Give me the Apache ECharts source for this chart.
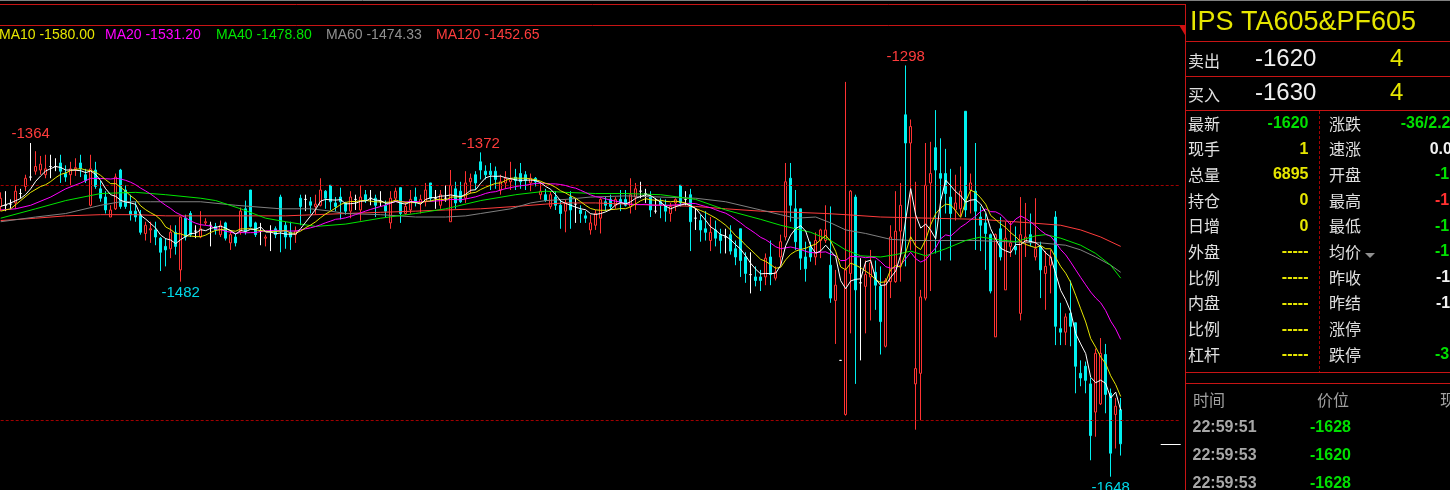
<!DOCTYPE html>
<html><head><meta charset="utf-8">
<script src="https://cdn.jsdelivr.net/npm/echarts/dist/echarts.min.js"></script>
<style>html,body{margin:0;padding:0;background:#000;}#c{width:1450px;height:490px;}</style>
</head><body><div id="c"></div>
<script>
// ---------- DATA ----------
const opens = [
-1418,-1417,-1416,-1415,-1407,-1401,-1393,-1388,-1387,-1391,
-1384,-1384,-1381,-1390,-1391,-1386,-1381,-1391,-1417,-1387,
-1403,-1410,-1427,-1420,-1387,-1404,-1422,-1422,-1425,-1441,
-1438,-1438,-1445,-1452,-1454,-1440,-1472,-1428,-1424,-1439,
-1444,-1432,-1434,-1435,-1442,-1432,-1449,-1444,-1439,-1420,
-1404,-1432,-1439,-1445,-1439,-1437,-1410,-1434,-1440,-1442,
-1411,-1412,-1414,-1418,-1417,-1405,-1400,-1415,-1410,-1415,
-1422,-1412,-1421,-1408,-1411,-1411,-1414,-1417,-1432,-1411,
-1402,-1424,-1421,-1410,-1415,-1414,-1398,-1411,-1417,-1411,
-1431,-1403,-1405,-1411,-1397,-1391,-1380,-1388,-1388,-1388,
-1404,-1398,-1397,-1393,-1390,-1391,-1398,-1394,-1408,-1408,
-1418,-1410,-1417,-1422,-1410,-1416,-1421,-1426,-1438,-1434,
-1428,-1414,-1412,-1417,-1412,-1412,-1418,-1410,-1405,-1407,
-1410,-1422,-1414,-1417,-1424,-1415,-1400,-1412,-1408,-1428,
-1430,-1437,-1447,-1438,-1442,-1444,-1442,-1454,-1437,-1461,
-1476,-1478,-1478,-1478,-1461,-1479,-1461,-1444,-1394,-1420,
-1420,-1461,-1452,-1461,-1447,-1447,-1468,-1498,-1549,-1595,
-1475,-1410,-1483,-1486,-1478,-1474,-1486,-1537,-1482,-1482,
-1439,-1340,-1364,-1569,-1560,-1496,-1398,-1368,-1390,-1390,
-1410,-1421,-1420,-1337,-1404,-1405,-1427,-1432,-1442,-1529,
-1437,-1489,-1452,-1452,-1509,-1448,-1442,-1461,-1452,-1475,
-1468,-1427,-1522,-1525,-1509,-1517,-1560,-1554,-1569,-1593,
-1586,-1544,-1577,-1595,-1591];
const closes = [
-1411,-1417,-1416,-1405,-1407,-1394,-1393,-1384,-1382,-1386,
-1384,-1384,-1388,-1393,-1386,-1385,-1386,-1396,-1386,-1401,
-1411,-1421,-1421,-1393,-1418,-1418,-1425,-1427,-1440,-1434,
-1437,-1444,-1457,-1455,-1440,-1452,-1427,-1444,-1442,-1439,
-1437,-1431,-1434,-1438,-1434,-1445,-1442,-1449,-1422,-1439,
-1435,-1442,-1439,-1444,-1439,-1442,-1439,-1444,-1444,-1439,
-1418,-1412,-1417,-1416,-1404,-1411,-1414,-1418,-1414,-1422,
-1410,-1412,-1410,-1413,-1411,-1417,-1414,-1422,-1411,-1405,
-1424,-1418,-1412,-1414,-1412,-1404,-1411,-1411,-1408,-1411,
-1400,-1415,-1414,-1398,-1394,-1398,-1387,-1391,-1391,-1395,
-1397,-1394,-1395,-1396,-1397,-1396,-1394,-1397,-1405,-1413,
-1408,-1417,-1424,-1415,-1421,-1416,-1424,-1428,-1432,-1424,
-1412,-1417,-1418,-1412,-1415,-1417,-1408,-1403,-1405,-1407,
-1421,-1422,-1417,-1422,-1418,-1412,-1415,-1412,-1431,-1428,
-1438,-1440,-1440,-1445,-1447,-1444,-1456,-1461,-1464,-1475,
-1476,-1481,-1481,-1462,-1476,-1474,-1448,-1397,-1417,-1448,
-1462,-1471,-1461,-1447,-1438,-1438,-1496,-1485,-1549,-1472,
-1405,-1489,-1483,-1476,-1466,-1485,-1516,-1481,-1444,-1439,
-1417,-1364,-1350,-1556,-1495,-1400,-1390,-1387,-1394,-1407,
-1424,-1415,-1405,-1421,-1398,-1422,-1434,-1441,-1490,-1442,
-1461,-1445,-1449,-1455,-1442,-1444,-1449,-1454,-1472,-1469,
-1461,-1520,-1525,-1512,-1520,-1554,-1564,-1566,-1613,-1543,
-1543,-1578,-1628,-1588,-1620];
const lows = [
-1422,-1422,-1420,-1420,-1411,-1405,-1396,-1391,-1391,-1394,
-1394,-1388,-1398,-1397,-1400,-1392,-1393,-1398,-1418,-1403,
-1414,-1424,-1427,-1421,-1420,-1420,-1430,-1431,-1442,-1447,
-1449,-1451,-1473,-1469,-1462,-1459,-1482,-1447,-1444,-1445,
-1445,-1434,-1452,-1442,-1444,-1447,-1455,-1452,-1442,-1442,
-1436,-1444,-1451,-1452,-1456,-1445,-1457,-1454,-1455,-1449,
-1434,-1422,-1424,-1425,-1418,-1420,-1421,-1422,-1429,-1425,
-1428,-1421,-1430,-1415,-1417,-1427,-1418,-1427,-1437,-1414,
-1432,-1425,-1424,-1418,-1424,-1418,-1414,-1420,-1420,-1414,
-1431,-1420,-1415,-1415,-1407,-1404,-1395,-1395,-1404,-1403,
-1408,-1403,-1404,-1404,-1403,-1404,-1405,-1401,-1412,-1414,
-1420,-1421,-1437,-1440,-1437,-1432,-1432,-1432,-1442,-1438,
-1441,-1422,-1421,-1420,-1422,-1418,-1424,-1421,-1411,-1415,
-1427,-1424,-1428,-1431,-1431,-1422,-1418,-1417,-1456,-1438,
-1448,-1447,-1456,-1452,-1458,-1458,-1459,-1468,-1478,-1483,
-1492,-1486,-1490,-1485,-1485,-1481,-1469,-1447,-1431,-1455,
-1472,-1482,-1465,-1468,-1462,-1449,-1500,-1535,-1549,-1596,
-1526,-1569,-1549,-1526,-1515,-1506,-1544,-1538,-1496,-1483,
-1482,-1469,-1455,-1608,-1600,-1498,-1490,-1458,-1464,-1424,
-1464,-1430,-1427,-1427,-1424,-1455,-1456,-1472,-1492,-1529,
-1464,-1489,-1461,-1459,-1515,-1461,-1452,-1464,-1496,-1506,
-1492,-1536,-1536,-1536,-1537,-1577,-1571,-1577,-1634,-1614,
-1587,-1594,-1648,-1624,-1630];
const highs = [
-1406,-1405,-1412,-1400,-1403,-1391,-1364,-1371,-1375,-1374,
-1374,-1377,-1374,-1383,-1380,-1377,-1374,-1386,-1374,-1380,
-1396,-1405,-1417,-1390,-1386,-1400,-1408,-1414,-1421,-1431,
-1431,-1431,-1444,-1445,-1434,-1434,-1427,-1425,-1422,-1434,
-1422,-1428,-1431,-1432,-1430,-1431,-1438,-1441,-1419,-1413,
-1404,-1431,-1432,-1442,-1434,-1435,-1408,-1431,-1431,-1435,
-1408,-1408,-1410,-1408,-1394,-1404,-1400,-1410,-1402,-1414,
-1405,-1408,-1400,-1404,-1404,-1408,-1405,-1413,-1405,-1402,
-1402,-1414,-1404,-1402,-1408,-1398,-1398,-1404,-1404,-1400,
-1387,-1397,-1397,-1388,-1390,-1388,-1372,-1383,-1381,-1384,
-1391,-1388,-1380,-1386,-1381,-1388,-1390,-1393,-1398,-1403,
-1405,-1405,-1412,-1412,-1405,-1411,-1417,-1422,-1425,-1421,
-1411,-1410,-1408,-1410,-1404,-1404,-1394,-1398,-1397,-1403,
-1405,-1411,-1411,-1412,-1415,-1411,-1400,-1405,-1403,-1420,
-1425,-1422,-1427,-1430,-1437,-1437,-1434,-1447,-1437,-1457,
-1457,-1469,-1472,-1458,-1447,-1469,-1442,-1381,-1381,-1404,
-1420,-1448,-1448,-1440,-1437,-1417,-1418,-1472,-1549,-1312,
-1404,-1408,-1462,-1464,-1455,-1464,-1469,-1479,-1434,-1405,
-1398,-1298,-1344,-1397,-1489,-1364,-1363,-1336,-1360,-1369,
-1386,-1391,-1384,-1337,-1390,-1364,-1418,-1424,-1441,-1441,
-1427,-1431,-1431,-1435,-1410,-1415,-1424,-1411,-1448,-1456,
-1455,-1422,-1500,-1509,-1481,-1517,-1549,-1550,-1564,-1539,
-1530,-1535,-1573,-1581,-1581];

// moving-average values read from the picture where the window has no history
const ma5Lead  = [[0,-1418],[2,-1415]];
const ma10Lead = [[0,-1422],[2,-1420],[4,-1413],[6,-1406],[8,-1401]];
const ma20Lead = [[0,-1421],[3,-1420],[6,-1417],[10,-1410],[13,-1403],[16,-1398],[18,-1394]];
// long averages
const ma40Pts = [[0,-1428],[7,-1420],[13,-1413],[20,-1407],[27,-1406],[33,-1408],[40,-1411],[43,-1413],[48,-1420],[53,-1428],[57,-1431],[63,-1435],[69,-1433],[76,-1428],[83,-1424],[89,-1420],[96,-1413],[103,-1408],[109,-1405],[113,-1406],[119,-1407],[125,-1407],[132,-1408],[139,-1412],[145,-1421],[152,-1429],[156,-1434],[162,-1440],[166,-1447],[169,-1455],[172,-1460],[176,-1461],[179,-1459],[182,-1456],[185,-1460],[189,-1454],[193,-1447],[196,-1444],[199,-1446],[203,-1448],[207,-1443],[209,-1442],[212,-1445],[216,-1451],[219,-1458],[222,-1468],[224,-1479]];
const ma60Pts = [[0,-1431],[7,-1427],[13,-1424],[20,-1417],[24,-1414],[30,-1414],[40,-1414],[47,-1417],[56,-1420],[62,-1420],[66,-1422],[69,-1424],[76,-1425],[83,-1427],[89,-1427],[93,-1426],[96,-1424],[102,-1420],[106,-1415],[109,-1413],[113,-1412],[118,-1410],[125,-1409],[132,-1410],[139,-1411],[145,-1414],[152,-1421],[156,-1425],[159,-1428],[163,-1427],[166,-1432],[169,-1438],[173,-1441],[178,-1446],[182,-1447],[188,-1447],[195,-1447],[201,-1448],[208,-1449],[213,-1451],[216,-1455],[219,-1461],[222,-1468],[224,-1474]];
const ma120Pts = [[0,-1430],[7,-1428],[13,-1426],[20,-1425],[27,-1425],[33,-1426],[57,-1426],[63,-1425],[69,-1424],[76,-1423],[83,-1422],[89,-1421],[96,-1420],[103,-1418],[109,-1416],[113,-1415],[119,-1415],[125,-1416],[132,-1417],[139,-1418],[145,-1420],[152,-1422],[159,-1423],[165,-1424],[169,-1425],[176,-1427],[186,-1428],[196,-1429],[206,-1432],[212,-1434],[216,-1438],[220,-1444],[224,-1452]];

const maNames = ['MA10','MA20','MA40','MA60','MA120'];
const maLegendValues = ['-1580.00','-1531.20','-1478.80','-1474.33','-1452.65'];
const peakIdx = [6, 96, 181];
const troughIdx = [36, 222];
const gridLevels = [-1400, -1600];
const lastPrice = -1620;
const emptySlots = 12;

const leftRows = [['最新','-1620','g'],['现手','1','y'],['总量','6895','y'],['持仓','0','y'],['日增','0','y'],['外盘','-----','y'],['比例','-----','y'],['内盘','-----','y'],['比例','-----','y'],['杠杆','-----','y']];
const rightRows = [['涨跌','-36/2.2','g'],['速涨','0.0','w'],['开盘','-1','g'],['最高','-1','r'],['最低','-1','g'],['均价','-1','g'],['昨收','-1','w'],['昨结','-1','w'],['涨停','','w'],['跌停','-3','g']];
const ticks = [['22:59:51','-1628'],['22:59:53','-1620'],['22:59:53','-1628']];

// ---------- BUILD ----------
const N = closes.length;
const categories = [];
for (let i = 0; i < N + emptySlots; i++) categories.push(String(i));
const candleData = opens.map((o, i) => [o, closes[i], lows[i], highs[i]]);

function movingAverage(period, lead) {
  const pts = lead.slice();
  for (let i = period - 1; i < N; i++) {
    let s = 0;
    for (let k = i - period + 1; k <= i; k++) s += closes[k];
    pts.push([i, +(s / period).toFixed(2)]);
  }
  return pts;
}

const COL = {g:'#00e000', y:'#e6e600', w:'#f0f0f0', r:'#ff3030'};
const LATIN = '"Liberation Sans", Arial, sans-serif';
const CJK = '"Noto Sans CJK SC", sans-serif';
const RED = '#c81414';

function maSeries(name, data, color) {
  return {name, type:'line', data, symbol:'none', z:5, silent:true,
    lineStyle:{color, width:1}, animation:false};
}

const g = [];
function txt(x, y, text, fill, font, align) {
  g.push({type:'text', x, y, silent:true, style:{text, fill, font, textAlign: align || 'left', textVerticalAlign:'middle'}});
}
function hline(x1, x2, y, stroke, dash) {
  g.push({type:'line', silent:true, shape:{x1, y1:y, x2, y2:y}, style:{stroke, lineWidth:1, lineDash: dash || null}});
}
function vline(x, y1, y2, stroke, dash) {
  g.push({type:'line', silent:true, shape:{x1:x, y1, x2:x, y2}, style:{stroke, lineWidth:1, lineDash: dash || null}});
}

// frame lines
hline(0, 1450, 0.5, '#808080');
hline(0, 1185, 4.5, RED);
hline(0, 1185, 25.5, RED);
vline(1185.5, 4, 490, RED);
[41.5, 76.5, 110.5, 372.5, 383.5].forEach(y => hline(1185, 1450, y, RED));
vline(1319.5, 111, 372, '#a00000', [3, 2]);
g.push({type:'polygon', silent:true, shape:{points:[[1179,25],[1185,25],[1185,35]]}, style:{fill:'#d01010'}});

// MA legend
const legendX = [-1, 105, 216, 326, 436];
const legendCol = ['#e6e600', '#ff00ff', '#00e600', '#909090', '#ff3c3c'];
maNames.forEach((n, k) => txt(legendX[k], 35, n + ' ' + maLegendValues[k], legendCol[k], '14px ' + LATIN));

// right panel
txt(1190, 23, 'IPS TA605&PF605', '#e6e600', '27px ' + LATIN);
txt(1188, 61, '卖出', '#e0e0e0', '16px ' + CJK);
txt(1255, 59, '-1620', '#f0f0f0', '24px ' + LATIN);
txt(1390, 59, '4', '#e6e600', '24px ' + LATIN);
txt(1188, 95, '买入', '#e0e0e0', '16px ' + CJK);
txt(1255, 93, '-1630', '#f0f0f0', '24px ' + LATIN);
txt(1390, 93, '4', '#e6e600', '24px ' + LATIN);
const rightValX = [1400.7, 1429.7, 1435, 1435, 1435, 1435, 1436, 1436, 1436, 1435];
leftRows.forEach((r, k) => {
  const y = 123.5 + k * 25.7;
  txt(1188, y, r[0], '#e0e0e0', '16px ' + CJK);
  txt(1308.5, y, r[1], COL[r[2]], 'bold 16px ' + LATIN, 'right');
  const rr = rightRows[k];
  txt(1329, y, rr[0], '#e0e0e0', '16px ' + CJK);
  if (rr[1]) txt(rightValX[k], y, rr[1], COL[rr[2]], 'bold 16px ' + LATIN);
});
g.push({type:'polygon', silent:true, shape:{points:[[1365,253],[1375,253],[1370,258]]}, style:{fill:'#909090'}});
txt(1193, 400, '时间', '#a0a0a0', '16px ' + CJK);
txt(1317, 400, '价位', '#a0a0a0', '16px ' + CJK);
txt(1440, 400, '现', '#a0a0a0', '16px ' + CJK);
ticks.forEach((t, k) => {
  const y = 428 + k * 27.7;
  txt(1192.5, y, t[0], '#a8a8a8', 'bold 16px ' + LATIN);
  txt(1310, y, t[1], COL.g, 'bold 16px ' + LATIN);
});

const option = {
  backgroundColor: '#000',
  animation: false,
  grid: {left: 0.7, top: 20.8, width: 1180, height: 458.25},
  xAxis: {type:'category', data: categories, boundaryGap: false, show: false},
  yAxis: {type:'value', min: -1650, max: -1260, show: false},
  series: [
    {
      type:'candlestick', data: candleData, barWidth: 3, z: 3,
      itemStyle: {color:'#000000', color0:'#00f0f0', borderColor:'#ff3232', borderColor0:'#00f0f0', borderColorDoji:'#ffffff', borderWidth:1},
      markLine: {
        silent: true, symbol: 'none', animation: false, label: {show: false},
        data: gridLevels.map(v => ({yAxis: v, lineStyle: {color:'#a00000', type:[3,2], width:1}})).concat([
          [{coord:[N + emptySlots - 5, lastPrice], lineStyle:{color:'#ffffff', type:'solid', width:1}}, {coord:[N + emptySlots - 1, lastPrice]}]
        ])
      },
      markPoint: {
        symbol: 'rect', symbolSize: 1, silent: true, animation: false,
        itemStyle: {color: 'rgba(0,0,0,0)'},
        label: {show: true, fontFamily: LATIN, fontSize: 15, formatter: p => String(p.value)},
        data: peakIdx.map(i => ({coord:[i, highs[i]], value: highs[i], label:{position:'top', distance:1, color:'#ff3c3c'}}))
          .concat(troughIdx.map(i => ({coord:[i, lows[i]], value: lows[i], label:{position:'bottom', distance:3, color:'#00d8e8'}})))
      }
    },
    maSeries('MA120', ma120Pts, '#ff3c3c'),
    maSeries('MA60', ma60Pts, '#808080'),
    maSeries('MA40', ma40Pts, '#00e600'),
    maSeries('MA20', movingAverage(20, ma20Lead), '#ff00ff'),
    maSeries('MA10', movingAverage(10, ma10Lead), '#e6e600'),
    maSeries('MA5', movingAverage(5, ma5Lead), '#ffffff')
  ],
  graphic: g
};
const chart = echarts.init(document.getElementById('c'), null, {renderer:'canvas'});
chart.setOption(option);
</script></body></html>
